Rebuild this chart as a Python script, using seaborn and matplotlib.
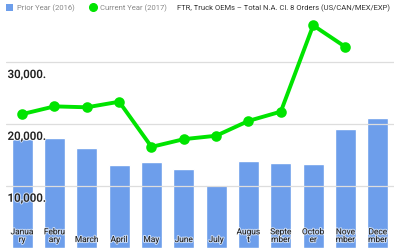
import numpy as np
import pandas as pd
import matplotlib
matplotlib.use("Agg")
import matplotlib.pyplot as plt
import matplotlib.patheffects as pe
import matplotlib.transforms as mtransforms
from matplotlib.lines import Line2D
from matplotlib.patches import Patch
import seaborn as sns

months = ["January", "February", "March", "April", "May", "June", "July",
          "August", "September", "October", "November", "December"]
month_labels = ["Janua\nry", "Febru\nary", "March", "April", "May", "June", "July",
                "Augus\nt", "Septe\nmber", "Octob\ner", "Nove\nmber", "Dece\nmber"]
prior_2016 = [17650, 17800, 16200, 13400, 13950, 12700, 10150, 14050, 13700, 13650, 19300, 20950]
current_2017 = [21650, 22900, 22750, 23650, 16350, 17600, 18150, 20550, 22050, 36000, 32500, np.nan]
y_ticks = [10000, 20000, 30000]
y_tick_labels = ["10,000.", "20,000.", "30,000."]
legend_prior = "Prior Year (2016)"
legend_current = "Current Year (2017)"
title = "FTR, Truck OEMs \u2013 Total N.A. Cl. 8 Orders (US/CAN/MEX/EXP)"

bar_color = "#6d9eeb"
line_color = "#00e400"

df = pd.DataFrame({"month": months, "prior": prior_2016, "current": current_2017})

sns.set_style("white")
plt.rcParams["font.family"] = ["Roboto", "DejaVu Sans"]

fig = plt.figure(figsize=(4.0, 2.48), dpi=100)
ax = fig.add_axes([6 / 400, 0, 388 / 400, 1])

for t in y_ticks:
    ax.axhline(t, color="#dddddd", lw=0.9, zorder=0)

sns.barplot(data=df, x="month", y="prior", order=months, color=bar_color,
            width=0.65, saturation=1, ax=ax, zorder=2)
sns.pointplot(data=df, x="month", y="current", order=months, color=line_color,
              markers="o", markersize=5.5, linewidth=2.8, ax=ax, errorbar=None)
for art in ax.collections + ax.lines:
    art.set_zorder(4)

ax.set_xlim(-0.5, len(months) - 0.5)
ax.set_ylim(0, 40100)
ax.set_xlabel("")
ax.set_ylabel("")
ax.set_xticks([])
ax.set_yticks([])
for s in ax.spines.values():
    s.set_visible(False)

halo = [pe.withStroke(linewidth=1.5, foreground=(1, 1, 1, 0.6))]
below = mtransforms.offset_copy(ax.get_yaxis_transform(), fig=fig, x=0, y=-4, units="points")
for t, lab in zip(y_ticks, y_tick_labels):
    ax.text(0.004, t, lab, transform=below, ha="left", va="top",
            fontsize=8.3, fontweight="medium", color="#222222", zorder=5,
            path_effects=halo)

for i, lab in enumerate(month_labels):
    ax.text(i, 0.02, lab, transform=ax.get_xaxis_transform(), ha="center", va="bottom",
            fontsize=6, color="#222222", linespacing=1.35, zorder=6,
            path_effects=halo)

handles = [Patch(facecolor=bar_color, edgecolor="none", label=legend_prior),
           Line2D([], [], color=line_color, marker="o", lw=0, markersize=5.5, label=legend_current)]
leg = fig.legend(handles=handles, loc="center left", bbox_to_anchor=(0.015, 1 - 8 / 248), ncol=2,
                 frameon=False, fontsize=5.5, handlelength=0.9, handleheight=0.9,
                 handletextpad=0.5, columnspacing=2.0, borderaxespad=0, borderpad=0)
for t in leg.get_texts():
    t.set_color("#888888")
fig.text(177 / 400, 1 - 8 / 248, title, ha="left", va="center", fontsize=5.5, color="#333333")

fig.savefig("out.png", dpi=100)
